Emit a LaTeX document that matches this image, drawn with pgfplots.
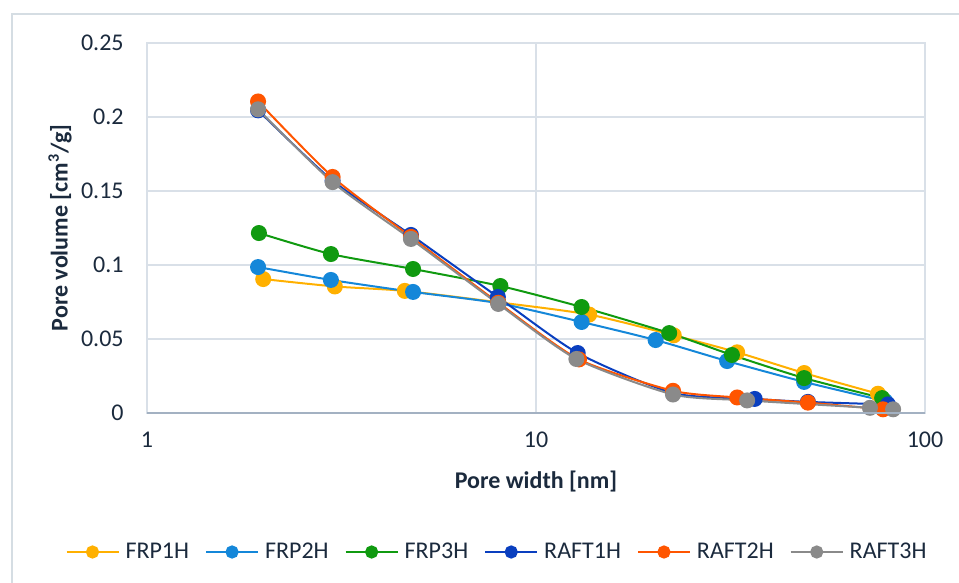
\documentclass[border=0pt]{standalone}
\usepackage{pgfplots}
\pgfplotsset{compat=1.18}
\usepackage{fontspec}
\setmainfont{Carlito}
\definecolor{cFRPa}{HTML}{FFB000}
\definecolor{cFRPb}{HTML}{1487D9}
\definecolor{cFRPc}{HTML}{109A10}
\definecolor{cRAFTa}{HTML}{0A3FBF}
\definecolor{cRAFTb}{HTML}{FF5500}
\definecolor{cRAFTc}{HTML}{8A8A8A}
\definecolor{textc}{HTML}{1B2A3D}
\definecolor{gridc}{HTML}{D9E0E8}
\definecolor{framec}{HTML}{D5DDE3}
\definecolor{basec}{HTML}{A3B1C2}
\begin{document}
\begin{tikzpicture}
\path[use as bounding box] (-73.5pt,-85pt) rectangle (406pt,206.5pt);
\draw[framec, line width=0.8pt] (-67.5pt,-90pt) -- (-67.5pt,199.5pt) -- (410pt,199.5pt);
\begin{axis}[
  name=ax,
  at={(0,0)}, anchor=south west,
  scale only axis, width=389pt, height=185pt,
  xmode=log, xmin=1, xmax=100,
  xtick={1,10,100}, xticklabels={1,10,100},
  xminorticks=false,
  ymin=0, ymax=0.25,
  ytick={0,0.05,0.1,0.15,0.2,0.25},
  yticklabels={0,0.05,0.1,0.15,0.2,0.25},
  major tick length=0pt,
  grid=major,
  major grid style={gridc, line width=0.8pt},
  axis line style={gridc, line width=0.8pt},
  tick label style={font=\fontsize{12}{14}\selectfont, text=textc, inner sep=0pt},
  xticklabel style={anchor=center, yshift=-13.5pt},
  yticklabel style={anchor=east, xshift=-11.5pt},
  xlabel={Pore width [nm]},
  ylabel={Pore volume [cm\textsuperscript{3}/g]},
  label style={font=\bfseries\fontsize{12}{14}\selectfont, text=textc},
  xlabel style={at={(axis description cs:0.5,0)}, anchor=center, yshift=-34.5pt},
  ylabel style={at={(axis description cs:0,0.5)}, anchor=center, yshift=43.5pt},
  legend columns=6,
  legend style={at={(axis description cs:0.4486,-0.3757)}, anchor=center, draw=none, fill=none,
    font=\fontsize{12}{14}\selectfont, text=textc,
    nodes={inner xsep=0pt},
    /tikz/every odd column/.append style={column sep=3pt},
    /tikz/every even column/.append style={column sep=8pt}},
  legend image code/.code={
    \draw[mark=none] (0pt,0pt) -- (26pt,0pt);
    \draw[mark size=2.8pt, only marks] plot coordinates {(13pt,0pt)};},
  every axis plot/.append style={line width=1pt, smooth, tension=0.4, mark=*, mark size=3.5pt},
]
\addplot[cFRPa, mark options={fill=cFRPa, draw=cFRPa}] coordinates {
(1.99,0.0905) (3.04,0.0855) (4.6,0.0825) (8.0,0.0748) (13.7,0.0665) (22.6,0.0525) (32.9,0.041) (48.9,0.027) (75.7,0.013)};
\addlegendentry{FRP1H}
\addplot[cFRPb, mark options={fill=cFRPb, draw=cFRPb}] coordinates {
(1.93,0.0986) (2.97,0.0899) (4.83,0.0818) (8.0,0.0742) (13.1,0.0615) (20.3,0.0493) (31.0,0.0351) (48.9,0.021) (79.0,0.008)};
\addlegendentry{FRP2H}
\addplot[cFRPc, mark options={fill=cFRPc, draw=cFRPc}] coordinates {
(1.94,0.1216) (2.97,0.1074) (4.83,0.0973) (8.1,0.0858) (13.1,0.0716) (22.0,0.054) (31.9,0.0392) (48.9,0.0236) (77.6,0.0101)};
\addlegendentry{FRP3H}
\addplot[cRAFTa, mark options={fill=cRAFTa, draw=cRAFTa}] coordinates {
(1.93,0.2045) (3.0,0.157) (4.77,0.1203) (7.98,0.0784) (12.8,0.0405) (22.5,0.0135) (36.5,0.0095) (50.0,0.0075) (80.3,0.0058)};
\addlegendentry{RAFT1H}
\addplot[cRAFTb, mark options={fill=cRAFTb, draw=cRAFTb}] coordinates {
(1.93,0.2105) (3.0,0.1595) (4.77,0.119) (8.0,0.0745) (12.9,0.0362) (22.5,0.015) (32.9,0.0105) (50.0,0.007) (78.0,0.0025)};
\addlegendentry{RAFT2H}
\addplot[cRAFTc, mark options={fill=cRAFTc, draw=cRAFTc}] coordinates {
(1.93,0.2052) (3.0,0.156) (4.77,0.1176) (8.0,0.0737) (12.7,0.0365) (22.5,0.0125) (34.9,0.0085) (72.2,0.0035) (82.8,0.0025)};
\addlegendentry{RAFT3H}
\end{axis}
\draw[basec, line width=0.9pt] (ax.south west) -- (ax.south east);
\end{tikzpicture}
\end{document}
